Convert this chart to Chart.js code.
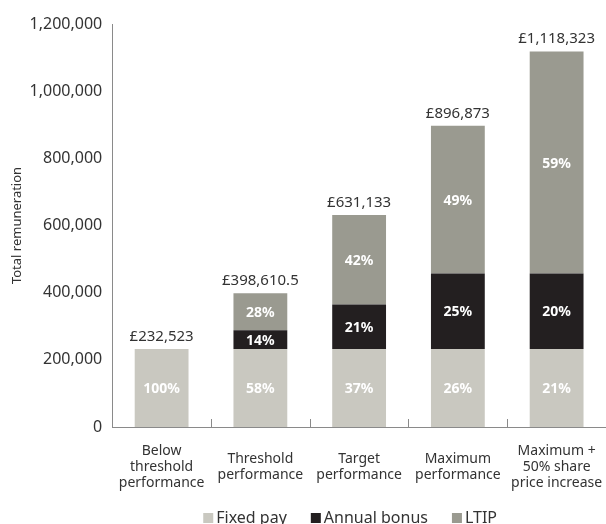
<!DOCTYPE html>
<html>
<head>
<meta charset="utf-8">
<script src="https://cdn.jsdelivr.net/npm/chart.js@4/dist/chart.umd.min.js"></script>
<style>
  html, body { margin: 0; padding: 0; background: #fff; overflow: hidden; }
  #wrap { width: 606px; height: 524px; position: relative; }
</style>
</head>
<body>
<div id="wrap"><canvas id="c"></canvas></div>
<script>
// Remuneration scenarios
const categories = [
  ["Below", "threshold", "performance"],
  ["Threshold", "performance"],
  ["Target", "performance"],
  ["Maximum", "performance"],
  ["Maximum +", "50% share", "price increase"]
];
const fixedPay    = [232523, 232523, 232523, 232523, 232523];
const annualBonus = [0, 55805.5, 132538, 224218, 224218];
const ltip        = [0, 110282, 266072, 440132, 661582];
const yTicks      = [0, 200000, 400000, 600000, 800000, 1000000, 1200000];

const FONT = "'Noto Sans', sans-serif";
const TEXT = '#333333';
const AXIS = '#8a8a8a';

const totals = categories.map((_, i) => fixedPay[i] + annualBonus[i] + ltip[i]);

// Totals above each stack and white share labels inside each segment
const barLabels = {
  id: 'barLabels',
  afterDatasetsDraw(chart) {
    const ctx = chart.ctx;
    ctx.save();
    ctx.textAlign = 'center';
    ctx.textBaseline = 'middle';
    chart.data.datasets.forEach((ds, di) => {
      const meta = chart.getDatasetMeta(di);
      meta.data.forEach((bar, i) => {
        const v = ds.data[i];
        if (!v) return;
        const pct = Math.round(v / totals[i] * 100) + '%';
        const mid = (bar.y + bar.base) / 2;
        ctx.fillStyle = '#ffffff';
        ctx.font = "bold 14px " + FONT;
        ctx.fillText(pct, bar.x, mid + 1);
      });
    });
    const yScale = chart.scales.y;
    const xScale = chart.scales.x;
    ctx.fillStyle = TEXT;
    ctx.font = "15px " + FONT;
    ctx.textBaseline = 'alphabetic';
    totals.forEach((t, i) => {
      const label = '£' + t.toLocaleString('en-GB', { maximumFractionDigits: 1 });
      ctx.fillText(label, xScale.getPixelForValue(i), yScale.getPixelForValue(t) - 8);
    });
    ctx.restore();
  }
};

// Short upward tick marks on the category axis between categories
const boundaryTicks = {
  id: 'boundaryTicks',
  afterDraw(chart) {
    const ctx = chart.ctx;
    const x = chart.scales.x;
    const bottom = chart.chartArea.bottom;
    ctx.save();
    ctx.strokeStyle = AXIS;
    ctx.lineWidth = 1;
    for (let i = 0; i < categories.length - 1; i++) {
      const px = Math.round(x.getPixelForValue(i + 0.5)) + 0.5;
      ctx.beginPath();
      ctx.moveTo(px, bottom);
      ctx.lineTo(px, bottom - 8);
      ctx.stroke();
    }
    ctx.restore();
  }
};

// Compact legend row along the bottom edge
const bottomLegend = {
  id: 'bottomLegend',
  afterDraw(chart) {
    const ctx = chart.ctx;
    const y = 518;
    let x = chart.chartArea.left + 91;
    ctx.save();
    ctx.font = "16px " + FONT;
    ctx.textBaseline = 'middle';
    ctx.textAlign = 'left';
    chart.data.datasets.forEach(ds => {
      ctx.fillStyle = ds.backgroundColor;
      ctx.fillRect(x, y - 5, 10, 10);
      x += 13;
      ctx.fillStyle = TEXT;
      ctx.fillText(ds.label, x, y);
      x += ctx.measureText(ds.label).width + 24;
    });
    ctx.restore();
  }
};

new Chart(document.getElementById('c'), {
  type: 'bar',
  data: {
    labels: categories,
    datasets: [
      { label: 'Fixed pay', data: fixedPay, backgroundColor: '#c9c8c0' },
      { label: 'Annual bonus', data: annualBonus, backgroundColor: '#231f20' },
      { label: 'LTIP', data: ltip, backgroundColor: '#9a9a90' }
    ]
  },
  options: {
    responsive: true,
    maintainAspectRatio: false,
    animation: false,
    layout: { padding: { left: 9, top: 24, right: 0, bottom: 1 } },
    datasets: { bar: { categoryPercentage: 1, barPercentage: 0.545 } },
    scales: {
      x: {
        stacked: true,
        grid: { display: false, drawTicks: false },
        border: { display: true, color: AXIS, width: 1 },
        afterFit(scale) { scale.paddingLeft = 0; scale.paddingRight = 0; },
        ticks: {
          color: TEXT,
          font: { family: FONT, size: 14, lineHeight: '16px' },
          padding: 24,
          maxRotation: 0,
          autoSkip: false,
          crossAlign: 'center'
        }
      },
      y: {
        stacked: true,
        min: 0,
        max: 1200000,
        grid: { display: false, drawTicks: false },
        border: { display: true, color: AXIS, width: 1 },
        afterBuildTicks(scale) { scale.ticks = yTicks.map(v => ({ value: v })); },
        ticks: {
          color: TEXT,
          font: { family: FONT, size: 16 },
          padding: 10,
          callback: v => v.toLocaleString('en-GB')
        },
        title: {
          display: true,
          text: 'Total remuneration',
          color: TEXT,
          font: { family: FONT, size: 13 },
          padding: { top: 0, bottom: -5 }
        }
      }
    },
    plugins: {
      legend: { display: false },
      tooltip: { enabled: false }
    }
  },
  plugins: [barLabels, boundaryTicks, bottomLegend]
});
</script>
</body>
</html>
